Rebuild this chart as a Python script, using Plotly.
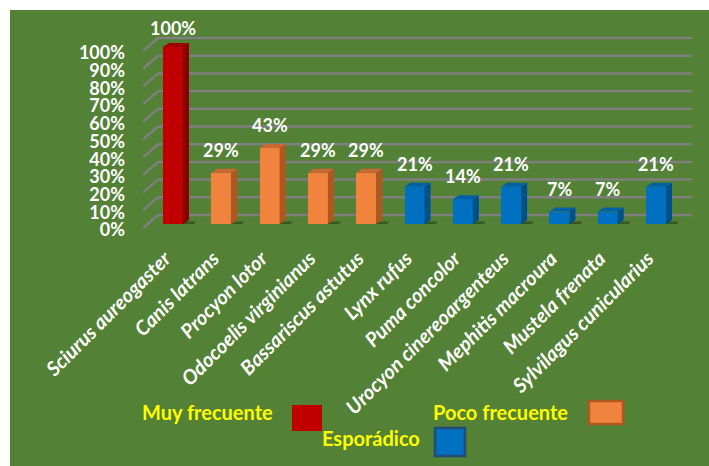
import plotly.graph_objects as go

# ---------------- data ----------------
species = ["Sciurus aureogaster", "Canis latrans", "Procyon lotor", "Odocoelis virginianus",
           "Bassariscus astutus", "Lynx rufus", "Puma concolor", "Urocyon cinereoargenteus",
           "Mephitis macroura", "Mustela frenata", "Sylvilagus cunicularius"]
values = [100, 29, 43, 29, 29, 21, 14, 21, 7, 7, 21]
category = ["Muy frecuente", "Poco frecuente", "Poco frecuente", "Poco frecuente", "Poco frecuente",
            "Esporádico", "Esporádico", "Esporádico", "Esporádico", "Esporádico", "Esporádico"]
y_ticks = [0, 10, 20, 30, 40, 50, 60, 70, 80, 90, 100]
legend_items = ["Muy frecuente", "Poco frecuente", "Esporádico"]

# ---------------- style ----------------
W, H = 709, 466
ML, MR, MT, MB = 143, 17, 20, 234
PW, PH = W - ML - MR, H - MT - MB
X0, X1 = -0.621, 10.745
Y0, Y1 = -4.52, 115.25
SX = PW / (X1 - X0)   # px per x unit
SY = PH / (Y1 - Y0)   # px per y unit

GREEN = "#538135"
GRID = "#7f7f7f"
FONT = "Lato"
colors = {
    "Muy frecuente": dict(front="#C00000", side="#860000", top="#A00000", edge="#C00000"),
    "Poco frecuente": dict(front="#F0843F", side="#B0571F", top="#C96A33", edge="#B0581E"),
    "Esporádico": dict(front="#0070C0", side="#00508A", top="#0061A6", edge="#1F4E79"),
}

BW = 0.414                 # front face width (x units)
DX = 6 / SX                # depth offset (x units)
DY = 4 / SY                # depth offset (y units)
BACK_DY = 9 / SY           # back wall offset above base
FRONT_DY = -4 / SY         # front edge offset below base
BACK_X = X0 + 15 / SX


def px_to_paper(px, py):
    return (px - ML) / PW, (H - MB - py) / PH


fig = go.Figure()
shapes = []

# green chart area background (white strip on top and left)
bx0, by0 = px_to_paper(10, H)
bx1, by1 = px_to_paper(W, 10)
shapes.append(dict(type="rect", xref="paper", yref="paper", x0=bx0, x1=bx1, y0=by0, y1=by1,
                   fillcolor=GREEN, line=dict(width=0), layer="below"))

# gridlines on back wall + side wall diagonals
for t in y_ticks:
    shapes.append(dict(type="line", xref="x", yref="y", x0=BACK_X, x1=X1,
                       y0=t + BACK_DY, y1=t + BACK_DY,
                       line=dict(color=GRID, width=2.5), layer="below"))
    shapes.append(dict(type="line", xref="x", yref="y", x0=X0, x1=BACK_X,
                       y0=t + FRONT_DY, y1=t + BACK_DY,
                       line=dict(color=GRID, width=2.5), layer="below"))

# floor shadows
for i, v in enumerate(values):
    shapes.append(dict(type="path", xref="x", yref="y",
                       path=f"M {i-BW/2},{0} L {i+BW/2+DX*1.8},{0} L {i+BW/2+DX*2.2},{DY*0.6} "
                            f"L {i-BW/2+DX},{DY*0.6} Z",
                       fillcolor="rgba(20,40,10,0.45)", line=dict(width=0), layer="below"))

# front faces
for cat in legend_items:
    xs = [i for i, c in enumerate(category) if c == cat]
    fig.add_trace(go.Bar(x=xs, y=[values[i] for i in xs], width=BW, name=cat,
                         marker=dict(color=colors[cat]["front"], line=dict(width=0)),
                         showlegend=False, hoverinfo="skip"))

# side and top faces
for i, v in enumerate(values):
    c = colors[category[i]]
    r = i + BW / 2
    l = i - BW / 2
    fig.add_trace(go.Scatter(x=[r, r + DX, r + DX, r, r], y=[0, DY, v + DY, v, 0],
                             fill="toself", fillcolor=c["side"], mode="lines",
                             line=dict(width=0, color=c["side"]), showlegend=False, hoverinfo="skip"))
    fig.add_trace(go.Scatter(x=[l, r, r + DX, l + DX, l], y=[v, v, v + DY, v + DY, v],
                             fill="toself", fillcolor=c["top"], mode="lines",
                             line=dict(width=0, color=c["top"]), showlegend=False, hoverinfo="skip"))

annotations = []
# data labels
for i, v in enumerate(values):
    center_px = (H - MB) - (v - Y0) * SY - 23
    shift = 23 if center_px >= 28 else 23 - (28 - center_px)
    annotations.append(dict(x=i, y=v, xref="x", yref="y", text=f"{v}%", showarrow=False,
                            yshift=shift, yanchor="middle",
                            font=dict(family=FONT, size=18, color="white", weight="bold")))

# legend (custom layout)
leg_text_pos = {"Muy frecuente": (140, 412), "Poco frecuente": (431, 412), "Esporádico": (320, 438)}
leg_box = {"Muy frecuente": (292, 405, 322, 431), "Poco frecuente": (589, 401, 623, 424),
           "Esporádico": (435, 428, 465, 456)}
for cat in legend_items:
    tx, ty = px_to_paper(*leg_text_pos[cat])
    annotations.append(dict(x=tx, y=ty, xref="paper", yref="paper", text=cat, showarrow=False,
                            xanchor="left", yanchor="middle",
                            font=dict(family=FONT, size=20, color="#FFFF00", weight="bold")))
    x0p, y0p = px_to_paper(leg_box[cat][0], leg_box[cat][3])
    x1p, y1p = px_to_paper(leg_box[cat][2], leg_box[cat][1])
    shapes.append(dict(type="rect", xref="paper", yref="paper", x0=x0p, x1=x1p, y0=y0p, y1=y1p,
                       fillcolor=colors[cat]["front"],
                       line=dict(color=colors[cat]["edge"], width=0 if cat == "Muy frecuente" else 2.5)))

fig.update_layout(
    width=W, height=H,
    margin=dict(l=ML, r=MR, t=MT, b=MB, pad=0),
    paper_bgcolor="white", plot_bgcolor="rgba(0,0,0,0)",
    shapes=shapes, annotations=annotations, bargap=0,
    xaxis=dict(range=[X0, X1], tickmode="array", tickvals=list(range(len(species))), ticktext=species,
               tickangle=-45, showgrid=False, zeroline=False, showline=False, ticks="",
               ticklabelstandoff=10, ticklabelshift=-8,
               tickfont=dict(family=FONT, size=20, color="white", weight="bold", style="italic"),
               fixedrange=True),
    yaxis=dict(range=[Y0, Y1], tickmode="array", tickvals=y_ticks, ticktext=[f"{t}%" for t in y_ticks],
               showgrid=False, zeroline=False, showline=False, ticks="",
               ticklabelstandoff=17, ticklabelshift=6,
               tickfont=dict(family=FONT, size=18, color="white", weight="bold"),
               fixedrange=True),
)

fig.write_html("out.html")
